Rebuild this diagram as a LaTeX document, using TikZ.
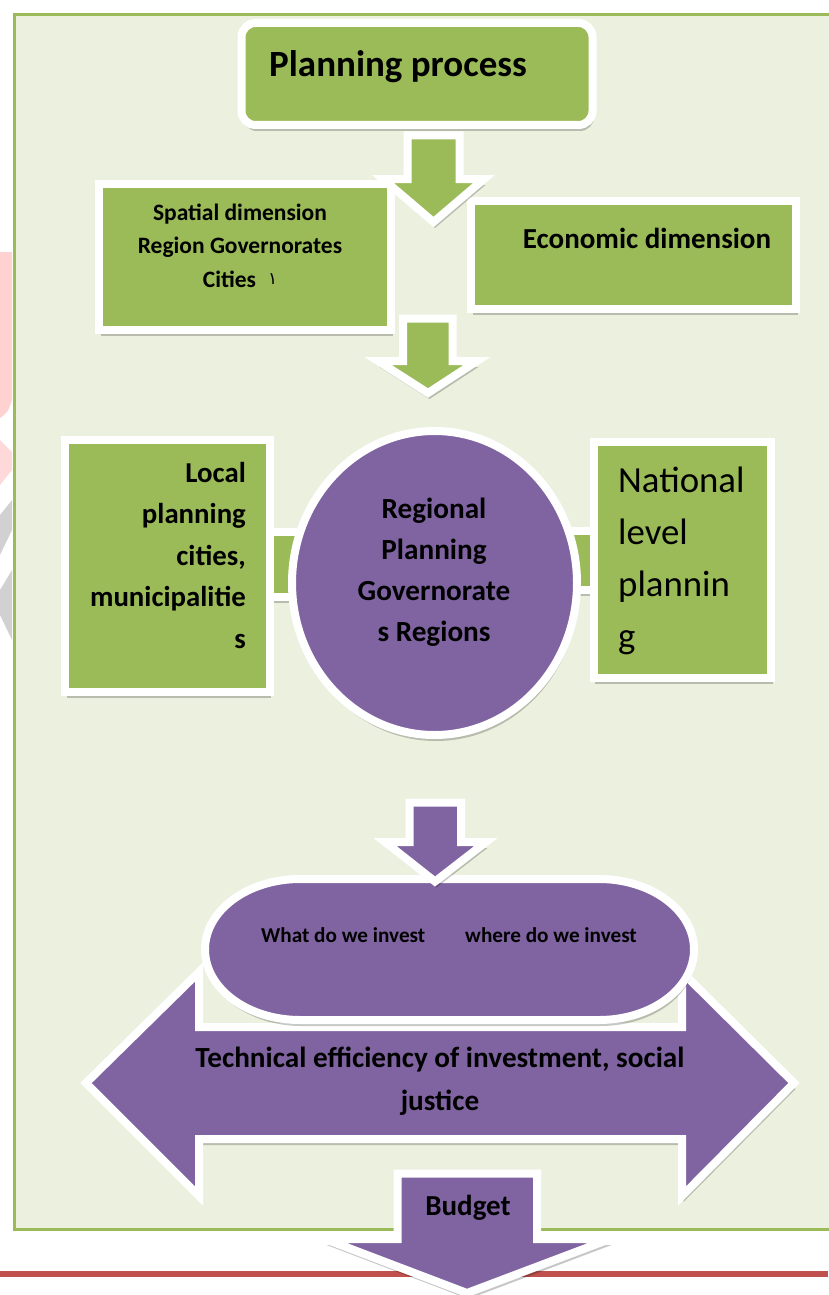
\documentclass[tikz,border=0pt]{standalone}
\usepackage{fontspec}
\setmainfont{Carlito}
\newfontfamily\arabicfont[Script=Arabic]{DejaVu Sans}
\TeXXeTstate=1
\usetikzlibrary{shapes.geometric,shadows}

\definecolor{leafgreen}{HTML}{9BBB59}
\definecolor{paleleaf}{HTML}{EBF1DE}
\definecolor{plum}{HTML}{8064A2}
\definecolor{brick}{HTML}{C0504D}

\pgfdeclarelayer{pageback}
\pgfdeclarelayer{links}
\pgfsetlayers{pageback,links,main}

\newcommand\arabone{{\arabicfont\mdseries\fontsize{17}{17}\selectfont\raisebox{3pt}{\beginR ١\endR}}}

\tikzset{
  card/.style={draw=white, line width=8pt, line join=miter,
    drop shadow={shadow xshift=1.5pt, shadow yshift=-6pt, opacity=0.22, fill=black}},
  greencard/.style={card, fill=leafgreen},
  plumcard/.style={card, fill=plum},
  words/.style={inner sep=0pt, font=\bfseries\fontsize{#1}{#1}\selectfont},
}

\begin{document}
\begin{tikzpicture}[x=1pt,y=-1pt]
  \useasboundingbox (0,0) rectangle (828,1295);
  % frame, watermark and page rule
  \begin{pgfonlayer}{pageback}
    \fill[red!18] (0,252) -- (12,252) -- (12,400) .. controls (8,412) .. (0,418) -- cycle;
    \fill[red!15] (0,440) -- (12,452) -- (12,470) -- (0,485) -- cycle;
    \fill[black!18] (0,515) -- (12,500) -- (12,530) -- (0,555) -- cycle;
    \fill[black!18] (0,590) -- (12,570) -- (12,640) -- (0,615) -- cycle;
    \fill[paleleaf] (14.5,14.5) rectangle (840,1229);
    \draw[leafgreen, line width=3pt] (840,14.5) -- (14.5,14.5) -- (14.5,1229) -- (840,1229);
    \draw[brick, line width=6pt] (0,1274) -- (828,1274);
  \end{pgfonlayer}

  % planning process
  \node[greencard, rounded corners=14pt, minimum width=351pt, minimum height=102pt] (plan) at (417,74) {};
  \node[words=37, anchor=base west] (plan-t) at (269,77) {Planning process};

  % two dimensions
  \node[greencard, minimum width=292pt, minimum height=146pt] (spatial) at (245,257) {};
  \foreach \t [count=\i] in {Spatial dimension, Region Governorates, Cities\hspace{12pt}\arabone}
    \node[words=23.5, anchor=base] (spatial-\i) at (240,186.5+33.5*\i) {\t};
  \node[greencard, minimum width=325pt, minimum height=108.5pt] (econ) at (633.5,254.75) {};
  \node[words=29, anchor=base] (econ-t) at (647,248) {Economic dimension};

  % green arrows
  \draw[greencard] (407.5,135.5) -- (459.5,135.5) -- (459.5,179) -- (484,179) -- (433.5,222)
                   -- (383,179) -- (407.5,179) -- cycle;
  \draw[greencard] (403,318.5) -- (452.5,318.5) -- (452.5,361) -- (477,361) -- (428,393)
                   -- (378,361) -- (403,361) -- cycle;

  % planning levels
  \node[greencard, minimum width=204.5pt, minimum height=252pt] (loc) at (167.25,566) {};
  \node[plumcard, ellipse, minimum width=285pt, minimum height=304pt] (hub) at (434.5,583) {};
  \node[greencard, minimum width=177.5pt, minimum height=236pt] (natl) at (682.25,560) {};
  \begin{pgfonlayer}{links}
    \draw[greencard] (loc.center |- 0,532) rectangle (hub.center |- 0,597);
    \draw[greencard] (hub.center |- 0,531) rectangle (natl.center |- 0,590);
  \end{pgfonlayer}
  \foreach \t [count=\i] in {Local, planning, {cities,}, municipalitie, s}
    \node[words=28.8, anchor=base east] (loc-\i) at (246,440.5+41.5*\i) {\t};
  \foreach \t [count=\i] in {Regional, Planning, Governorate, s Regions}
    \node[words=29.2, anchor=base] (hub-\i) at (434,477+41*\i) {\t};
  \foreach \t [count=\i] in {National, level, plannin, g}
    \node[inner sep=0pt, font=\fontsize{36.8}{36.8}\selectfont, anchor=base west] (natl-\i) at (618,440+52*\i) {\t};

  % investment
  \draw[plumcard] (86,1083) -- (199,972) -- (199,1027) -- (682,1027) -- (682,972) -- (794,1083)
                  -- (682,1196) -- (682,1139) -- (199,1139) -- (199,1196) -- cycle;
  \draw[plumcard] (300,879) -- (599,879) arc[start angle=-90, end angle=90, x radius=95, y radius=70.5]
                  -- (300,1020) arc[start angle=90, end angle=270, x radius=95, y radius=70.5] -- cycle;
  \node[words=21.2, anchor=base west] (what) at (261,942) {What do we invest};
  \node[words=21.2, anchor=base west] (where) at (465,942) {where do we invest};
  \draw[plumcard] (409.5,802.5) -- (461,802.5) -- (461,842) -- (486,842) -- (435,881.5)
                  -- (385,842) -- (409.5,842) -- cycle;
  \node[words=29.2, anchor=base] (tech-1) at (440,1067) {Technical efficiency of investment, social};
  \node[words=29.2, anchor=base] (tech-2) at (440,1110) {justice};

  % budget
  \draw[plumcard] (397.5,1173.5) -- (537,1173.5) -- (537,1239) -- (610,1239) -- (467,1293)
                  -- (325,1239) -- (397.5,1239) -- cycle;
  \node[words=29, anchor=base] (budget) at (468,1215) {Budget};
\end{tikzpicture}
\end{document}
